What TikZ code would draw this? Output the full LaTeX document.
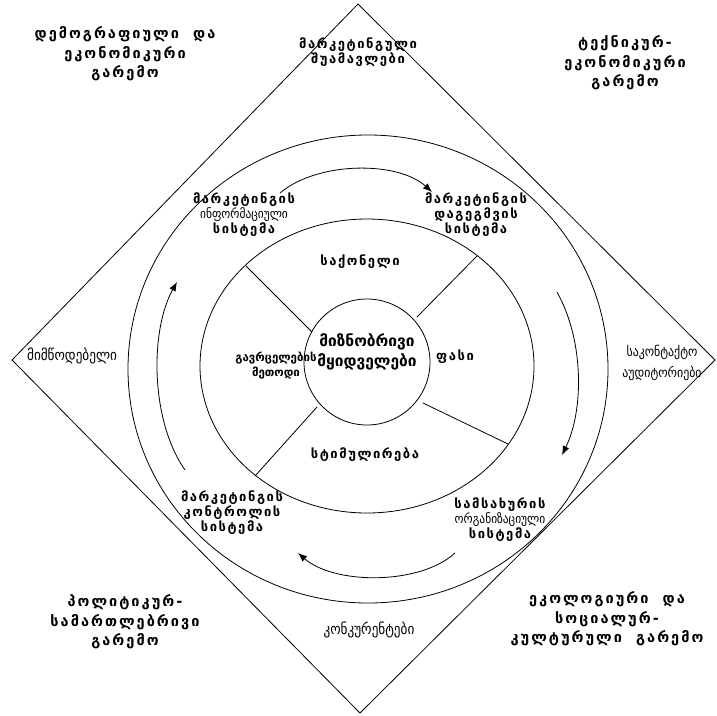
\documentclass[tikz,border=0pt]{standalone}
\usepackage{fontspec}
\setmainfont{DejaVu Sans}
\newfontfamily\geobf[LetterSpace=14]{DejaVu Sans Bold}
\newfontfamily\georing[LetterSpace=12]{DejaVu Sans Bold}
\newfontfamily\geoplain{DejaVu Sans Bold}
\newfontfamily\geonarrow[FakeStretch=0.88]{DejaVu Sans}
\usetikzlibrary{arrows.meta}

\begin{document}
\begin{tikzpicture}[x=1pt,y=-1pt,line width=0.8pt,
  envtext/.style={align=center,font=\geobf\fontsize{14.5}{19.5}\selectfont},
  ringtext/.style={align=center,font=\georing\fontsize{13}{15}\selectfont},
  thintext/.style={align=center,font=\geonarrow\fontsize{15}{21}\selectfont},
  flow/.style={-{Latex[length=9pt,width=7pt]}}]
\useasboundingbox (0,0) rectangle (717,715);

\coordinate (T) at (358,4);
\coordinate (R) at (715,360);
\coordinate (B) at (360,713);
\coordinate (L) at (12,360);
\coordinate (O) at (367,366);

% diamond and rings
\draw (T)--(R)--(B)--(L)--cycle;
\draw (368,369) ellipse [x radius=240, y radius=234];
\draw (O) ellipse [x radius=167, y radius=147];
\node[circle,draw,minimum size=126pt,inner sep=0pt,align=center,
  font=\geoplain\fontsize{15.5}{20}\selectfont] (buyers) at (367,362)
  {მიზნობრივი\\მყიდველები\\[4pt]};

% dividers
\coordinate (d1a) at (312,332); \coordinate (d1b) at (246,266);
\coordinate (d2a) at (417,317); \coordinate (d2b) at (477,256);
\coordinate (d3a) at (317,407); \coordinate (d3b) at (255,476);
\coordinate (d4a) at (423,403); \coordinate (d4b) at (508,444);
\draw (d1a)--(d1b);
\draw (d2a)--(d2b);
\draw (d3a)--(d3b);
\draw (d4a)--(d4b);

% flow arcs
\coordinate (a1) at (280,193); \coordinate (a2) at (432,192);
\coordinate (b1) at (557,292); \coordinate (b2) at (562,455);
\coordinate (c1) at (455,553); \coordinate (c2) at (298,553);
\coordinate (e1) at (185,470); \coordinate (e2) at (177,282);
\draw[flow] (a1) .. controls (318,161) and (398,161) .. (a2);
\draw[flow] (b1) .. controls (584,340) and (584,410) .. (b2);
\draw[flow] (c1) .. controls (420,585) and (335,585) .. (c2);
\draw[flow] (e1) .. controls (150,420) and (150,330) .. (e2);

% environment
\node[envtext] (demo) at (125,54) {დემოგრაფიული~~და\\ეკონომიკური\\გარემო};
\node[envtext] (tech) at (625,63) {ტექნიკურ-\\ეკონომიკური\\გარემო};
\node[envtext] (poli) at (125,622) {პოლიტიკურ-\\სამართლებრივი\\გარემო};
\node[envtext] (ecol) at (607,619) {ეკოლოგიური~~და\\სოციალურ-\\კულტურული~~გარემო};

% actors
\node[ringtext] (inter) at (358,52) {მარკეტინგული\\შუამავლები};
\node[thintext] (suppl) at (72,356) {მიმწოდებელი};
\node[thintext,font=\geonarrow\fontsize{13.5}{21}\selectfont] (audit) at (662,363) {საკონტაქტო\\აუდიტორიები};
\node[thintext] (compet) at (369,630) {კონკურენტები};

% systems
\node[ringtext] (info) at (244,215) {მარკეტინგის\\{\geonarrow ინფორმაციული}\\სისტემა};
\node[ringtext] (plan) at (476,215) {მარკეტინგის\\დაგეგმვის\\სისტემა};
\node[ringtext] (ctrl) at (232,513) {მარკეტინგის\\კონტროლის\\სისტემა};
\node[ringtext] (org) at (500,520) {სამსახურის\\{\geonarrow ორგანიზაციული}\\სისტემა};

% mix
\node[ringtext] (goods) at (360,262) {საქონელი};
\node[ringtext] (price) at (455,357) {ფასი};
\node[ringtext] (promo) at (365,455) {სტიმულირება};
\node[ringtext,font=\geoplain\fontsize{11.5}{15}\selectfont] (place) at (276,366) {გავრცელების\\მეთოდი};
\end{tikzpicture}
\end{document}
